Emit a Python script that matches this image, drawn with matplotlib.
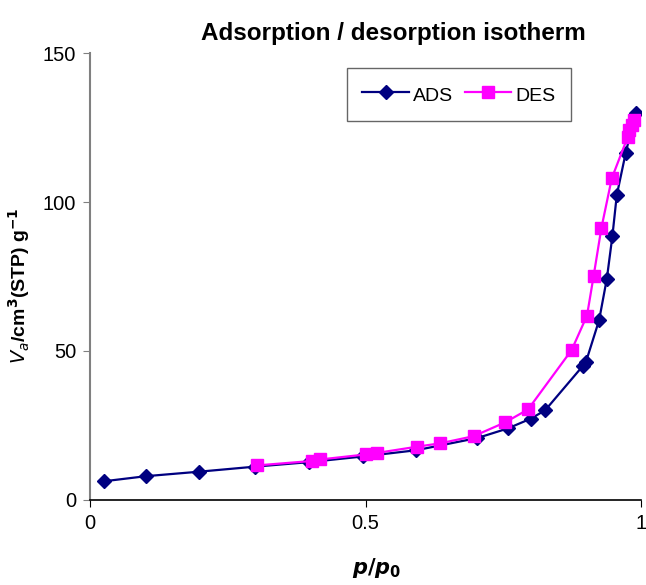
import numpy as np
import matplotlib.pyplot as plt

plt.rcParams['font.family'] = ['Liberation Sans', 'DejaVu Sans']

# adsorption branch
ads_p = [0.026, 0.102, 0.198, 0.30, 0.397, 0.495, 0.592, 0.703, 0.758, 0.80, 0.826,
         0.894, 0.90, 0.924, 0.938, 0.948, 0.956, 0.972, 0.99]
ads_v = [6.3, 8.0, 9.5, 11.2, 12.7, 14.6, 16.7, 20.8, 24.0, 27.3, 30.1,
         44.9, 46.3, 60.4, 74.3, 88.5, 102.3, 116.3, 130.0]

# desorption branch
des_p = [0.987, 0.984, 0.979, 0.976, 0.947, 0.928, 0.914, 0.902, 0.874, 0.795,
         0.754, 0.696, 0.635, 0.594, 0.521, 0.501, 0.418, 0.403, 0.303]
des_v = [127.5, 126.0, 124.2, 121.9, 108.0, 91.2, 75.2, 61.9, 50.3, 30.4,
         26.1, 21.4, 19.0, 17.9, 15.8, 15.3, 13.6, 13.1, 11.6]

fig = plt.figure(figsize=(6.46, 5.85), dpi=100)
ax = fig.add_axes([0.1393, 0.1453, 0.8530, 0.7641])

ax.plot(ads_p, ads_v, color='#000080', marker='D', markersize=7, lw=1.6, label='ADS')
ax.plot(des_p, des_v, color='#FF00FF', marker='s', markersize=9, lw=1.6, label='DES')

ax.set_xlim(0, 1)
ax.set_ylim(0, 150)
ax.set_xticks([0, 0.5, 1])
ax.set_xticklabels(['0', '0.5', '1'])
ax.set_yticks([0, 50, 100, 150])

ax.spines['top'].set_visible(False)
ax.spines['right'].set_visible(False)
ax.spines['left'].set_color('#808080')
ax.spines['left'].set_linewidth(1.5)
ax.spines['bottom'].set_linewidth(1.2)
ax.tick_params(axis='both', labelsize=14.5, length=5, direction='out')
ax.tick_params(axis='x', pad=5)
ax.tick_params(axis='y', color='#808080', pad=5)

ax.set_title('Adsorption / desorption isotherm', fontsize=17.5, fontweight='bold', x=0.55, y=1.01)
ax.set_xlabel(r'$\boldsymbol{p/p}_\mathbf{0}$', fontsize=15, labelpad=20)
ax.xaxis.set_label_coords(0.52, -0.125)
ax.set_ylabel(r'$\boldsymbol{V_a}$/cm$^\mathbf{3}$(STP) g$^\mathbf{-1}$', fontsize=14, fontweight='bold')
ax.yaxis.set_label_coords(-0.105, 0.48)

leg = ax.legend(loc='upper left', bbox_to_anchor=(0.466, 0.966), borderaxespad=0,
                ncol=2, fontsize=14, frameon=True, fancybox=False, edgecolor='#404040',
                handlelength=2.4, handletextpad=0.2, columnspacing=0.6, borderpad=0.8,
                handleheight=1.3)
leg.get_frame().set_linewidth(1.0)

plt.savefig('out.png', dpi=100)
plt.close()
